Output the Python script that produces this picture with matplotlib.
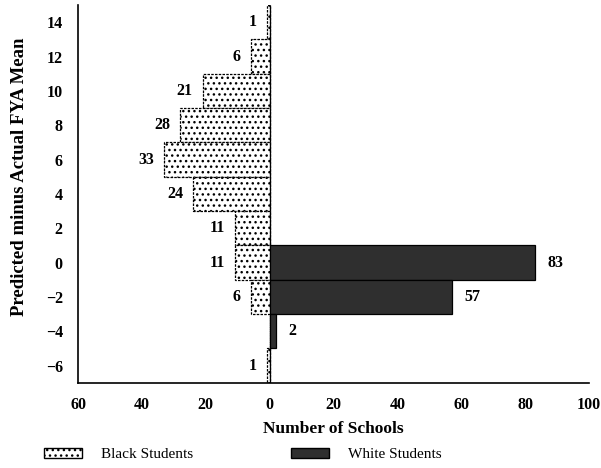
import matplotlib.pyplot as plt
from matplotlib.patches import Patch
from matplotlib.ticker import FuncFormatter

# bin centres (predicted minus actual FYA mean)
bins = [14, 12, 10, 8, 6, 4, 2, 0, -2, -4, -6]
black_counts = [1, 6, 21, 28, 33, 24, 11, 11, 6, 0, 1]
white_counts = [0, 0, 0, 0, 0, 0, 0, 83, 57, 2, 0]

x_ticks = [-60, -40, -20, 0, 20, 40, 60, 80, 100]
y_ticks = [14, 12, 10, 8, 6, 4, 2, 0, -2, -4, -6]

plt.rcParams['font.family'] = ['Liberation Serif', 'DejaVu Serif']

fig = plt.figure(figsize=(6.01, 4.68), dpi=100)
ax = fig.add_axes([0.13, 0.182, 0.85, 0.807])

black_left = [-c for c in black_counts]
ax.barh(bins, black_left, height=2, color='white', edgecolor='black',
        hatch='...', linewidth=0.9, linestyle=(0, (2, 1)))
ax.barh(bins, white_counts, height=2, color='#2f2f2f', edgecolor='black',
        linewidth=0.9)

for y, c in zip(bins, black_counts):
    if c > 0:
        ax.annotate(str(c), (-c, y), xytext=(-7, 0), textcoords='offset points',
                    ha='right', va='center', fontsize=11.5, fontweight='bold')
for y, c in zip(bins, white_counts):
    if c > 0:
        ax.annotate(str(c), (c, y), xytext=(9, 0), textcoords='offset points',
                    ha='left', va='center', fontsize=11.5, fontweight='bold')

ax.set_xlim(-60, 100)
ax.set_ylim(-7, 15)
ax.set_xticks(x_ticks)
ax.set_yticks(y_ticks)
ax.xaxis.set_major_formatter(FuncFormatter(lambda v, p: '%d' % abs(v)))
ax.yaxis.set_major_formatter(FuncFormatter(
    lambda v, p: ('\u2212%d' % abs(v)) if v < 0 else '%d' % v))
ax.tick_params(length=0, labelsize=11.5, pad=11)
ax.tick_params(axis='x', pad=10)
for lab in ax.get_xticklabels() + ax.get_yticklabels():
    lab.set_fontweight('bold')

for s in ['top', 'right']:
    ax.spines[s].set_visible(False)
ax.spines['left'].set_linewidth(1.2)
ax.spines['bottom'].set_linewidth(1.2)

ax.set_xlabel('Number of Schools', fontsize=12.5, fontweight='bold', labelpad=6)
ax.set_ylabel('Predicted minus Actual FYA Mean', fontsize=13.5,
              fontweight='bold')
ax.yaxis.set_label_coords(-0.099, 0.545)

handles = [Patch(facecolor='white', edgecolor='black', hatch='...'),
           Patch(facecolor='#2f2f2f', edgecolor='black')]
fig.legend(handles, ['Black Students', 'White Students'], ncol=2,
           loc='lower left', bbox_to_anchor=(0.05, -0.015), frameon=False,
           fontsize=11, handlelength=2.5, handleheight=0.6,
           handletextpad=1.25, columnspacing=6.4)

fig.savefig('out.png', dpi=100)
